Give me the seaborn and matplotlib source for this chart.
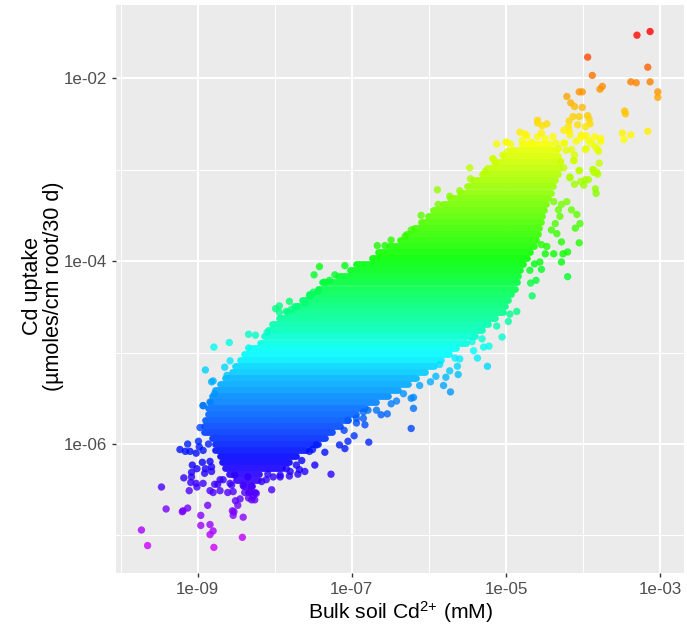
import numpy as np
import pandas as pd
import matplotlib
matplotlib.use("Agg")
import matplotlib.pyplot as plt
from matplotlib.colors import ListedColormap, Normalize, hsv_to_rgb
from matplotlib.ticker import FixedLocator, FixedFormatter, NullFormatter
import seaborn as sns

# Dense core of the cloud, read row by row: log10 uptake and the left / right log10 soil Cd edges
core_log_uptake = [-2.72,-2.79,-2.85,-2.92,-2.98,-3.05,-3.11,-3.18,-3.25,-3.31,-3.38,-3.44,-3.51,-3.57,-3.64,-3.70,-3.77,-3.84,-3.90,-3.97,
                   -4.03,-4.10,-4.16,-4.23,-4.30,-4.36,-4.43,-4.49,-4.56,-4.62,-4.69,-4.75,-4.82,-4.89,-4.95,-5.02,-5.08,-5.15,-5.21,-5.28,
                   -5.34,-5.41,-5.48,-5.54,-5.61,-5.67,-5.74,-5.80,-5.87,-5.93,-6.00,-6.07,-6.13,-6.20,-6.26,-6.33,-6.39,-6.46,-6.52]
core_log_left = [-4.79,-4.92,-5.03,-5.13,-5.25,-5.31,-5.43,-5.51,-5.60,-5.73,-5.82,-5.95,-6.01,-6.10,-6.19,-6.30,-6.38,-6.52,-6.66,-6.74,
                 -6.94,-7.03,-7.18,-7.39,-7.44,-7.56,-7.65,-7.75,-7.84,-7.94,-8.03,-8.09,-8.14,-8.19,-8.32,-8.40,-8.45,-8.51,-8.56,-8.65,
                 -8.71,-8.78,-8.82,-8.84,-8.86,-8.87,-8.90,-8.92,-8.92,-8.82,-8.78,-8.77,-8.71,-8.68,-8.64,-8.60,-8.50,-8.41,-8.35]
core_log_right = [-4.43,-4.35,-4.32,-4.30,-4.31,-4.32,-4.36,-4.39,-4.42,-4.45,-4.48,-4.51,-4.53,-4.55,-4.57,-4.58,-4.61,-4.64,-4.69,-4.73,
                  -4.78,-4.82,-4.84,-4.86,-4.88,-4.94,-4.97,-5.01,-5.04,-5.14,-5.23,-5.31,-5.40,-5.52,-5.65,-5.74,-5.84,-5.94,-6.05,-6.17,
                  -6.27,-6.40,-6.53,-6.69,-6.83,-6.95,-7.05,-7.16,-7.26,-7.35,-7.44,-7.60,-7.73,-7.82,-7.90,-8.20,-8.22,-8.29,-8.25]

# Individually visible points around the core
low_x = [-9.73,-9.65,-9.41,-9.20,-9.19,-9.13,-9.47,-8.87,-8.96,-8.96,-8.84,-8.80,-8.84,-8.79,-8.42,-8.41,-8.54,-8.55,-8.53,-8.48,
         -8.51,-8.45,-8.30,-8.26,-8.28,-8.24,-8.34,-8.04,-9.11,-9.01,-9.02,-9.09,-8.93,-9.18,-9.08,-9.08,-9.07,-9.01,-8.94,-8.84,
         -8.90,-8.82,-8.82,-8.91,-9.23,-9.16,-9.10,-9.13,-8.99,-8.98,-9.02,-8.93,-8.86,-8.97,-8.93,-8.78,-8.74,-8.84,-8.80,-8.71,
         -8.61,-8.54,-8.56,-8.41,-8.30,-8.39,-8.32,-8.67,-8.52,-8.35,-8.17,-8.02,-7.93,-7.81,-7.70,-7.61,-7.72,-7.85,-7.65,-7.55,
         -7.51,-7.46,-7.16,-7.35,-7.48,-7.68,-7.27,-8.09,-7.93,-7.80,-8.11,-8.58,-8.71]
low_y = [-6.94,-7.11,-6.71,-6.74,-6.73,-6.70,-6.47,-6.67,-6.78,-6.89,-6.88,-6.95,-6.99,-7.13,-7.02,-6.80,-6.78,-6.73,-6.74,-6.67,
         -6.62,-6.60,-6.61,-6.61,-6.57,-6.54,-6.59,-6.50,-6.51,-6.47,-6.43,-6.42,-6.43,-6.37,-6.36,-6.31,-6.23,-6.27,-6.20,-6.19,
         -6.27,-6.25,-6.30,-6.32,-6.06,-6.08,-6.08,-6.00,-5.97,-6.03,-6.10,-6.07,-6.00,-5.82,-5.58,-6.44,-6.44,-6.51,-6.53,-6.51,
         -6.53,-6.52,-6.45,-6.45,-6.46,-6.53,-6.52,-6.39,-6.34,-6.36,-6.41,-6.36,-6.36,-6.35,-6.33,-6.30,-6.23,-6.27,-6.18,-6.08,
         -6.06,-6.01,-6.01,-6.09,-6.23,-6.28,-6.33,-6.33,-6.34,-6.30,-6.39,-6.43,-6.39]

top_x = [-3.13,-3.30,-3.94,-3.16,-3.88,-3.38,-3.31,-3.13,-3.03,-3.03,-3.75,-3.78,-4.05,-4.01,-4.21,-4.16,-4.11,-4.01,-3.46,-3.45,
         -3.94,-3.92,-4.05,-4.13,-4.18,-4.59,-4.59,-4.47,-4.53,-3.91,-4.07,-3.97,-4.19,-4.25,-4.18,-4.17,-3.16,-3.49,-3.38,-3.47,
         -4.02,-3.96,-4.03,-3.85,-3.77,-3.77,-4.09,-3.93,-4.25,-3.89,-3.84,-3.81,-3.80,-3.96,-4.15,-4.22,-4.11,-4.12,-3.79,-4.05,
         -3.87,-3.86,-3.81,-3.97,-4.17,-4.25,-4.82,-4.75,-4.73,-5.12,-5.00,-4.94,-4.79,-4.67,-4.59,-4.54,-4.49,-4.39,-4.35,-4.32,
         -4.98,-5.04,-5.17,-5.14,-4.29]
top_y = [-1.49,-1.53,-1.77,-1.88,-1.97,-2.04,-2.05,-2.04,-2.15,-2.21,-2.09,-2.12,-2.15,-2.15,-2.20,-2.27,-2.31,-2.32,-2.36,-2.39,
         -2.41,-2.45,-2.42,-2.42,-2.47,-2.46,-2.49,-2.50,-2.52,-2.50,-2.51,-2.53,-2.53,-2.57,-2.58,-2.62,-2.58,-2.60,-2.62,-2.67,
         -2.62,-2.63,-2.65,-2.64,-2.66,-2.69,-2.69,-2.68,-2.71,-2.71,-2.75,-2.78,-2.80,-2.77,-2.78,-2.79,-2.84,-2.90,-2.93,-3.01,
         -3.00,-3.03,-3.05,-3.11,-3.08,-2.98,-2.59,-2.61,-2.63,-2.72,-2.70,-2.72,-2.68,-2.70,-2.64,-2.60,-2.66,-2.64,-2.71,-2.77,
         -2.80,-2.84,-2.88,-2.93,-2.91]

upper_left_x = [-7.42,-7.49,-7.09,-7.22,-7.36,-7.29,-7.55,-7.50,-7.43,-7.81,-7.94,-7.99,-7.94,-7.85,-7.79,-7.71,-7.61,-8.34,-8.25,-8.59,
                -8.79,-8.34,-8.10,-8.58,-8.65,-8.90,-8.62,-8.82,-8.80,-8.78,-8.93,-8.84,-5.89,-5.47,-6.10,-6.49,-6.67,-6.57,-6.23,-6.31,
                -5.27,-5.46,-5.60,-5.73,-5.88,-5.17,-4.99]
upper_left_y = [-4.06,-4.15,-4.05,-4.15,-4.23,-4.21,-4.38,-4.34,-4.32,-4.44,-4.49,-4.52,-4.56,-4.55,-4.53,-4.50,-4.46,-4.80,-4.81,-4.89,
                -4.94,-4.95,-4.78,-5.09,-5.16,-5.19,-5.25,-5.32,-5.31,-5.45,-5.58,-5.54,-3.22,-2.98,-3.50,-3.77,-3.83,-3.83,-3.66,-3.73,
                -3.02,-3.10,-3.23,-3.29,-3.38,-2.88,-2.70]

lower_right_x = [-4.05,-4.17,-4.11,-4.03,-3.93,-3.99,-3.87,-3.82,-3.84,-3.83,-4.21,-4.15,-4.08,-4.04,-4.10,-4.05,-4.20,-4.26,-4.28,-4.20,
                 -4.30,-4.32,-4.38,-4.28,-4.36,-4.34,-4.41,-4.28,-4.38,-4.47,-4.54,-4.49,-4.56,-4.54,-4.63,-4.69,-4.61,-4.68,-4.66,-4.12,
                 -4.24,-3.97,-4.86,-4.95,-4.97,-5.12,-5.05,-5.22,-5.29,-5.31,-5.44,-5.42,-5.37,-5.24,-5.60,-5.66,-5.63,-5.62,-5.73,-5.78,
                 -5.81,-5.72,-5.91,-5.98,-5.86,-6.20,-6.23,-6.20,-6.23,-6.42,-6.54,-6.62,-6.68,-6.79,-6.85,-6.94,-6.85,-6.83,-6.94,-7.05,
                 -7.10,-6.97,-7.05,-6.78,-7.09,-6.33,-6.49,-6.12]
lower_right_y = [-3.01,-3.09,-3.16,-3.13,-3.11,-3.17,-3.00,-3.03,-3.21,-3.26,-3.35,-3.44,-3.49,-3.59,-3.64,-3.80,-3.90,-3.92,-4.01,-4.17,
                 -3.51,-3.44,-3.35,-3.38,-3.59,-3.70,-3.66,-3.79,-3.92,-3.84,-3.82,-3.92,-4.01,-4.09,-4.03,-4.10,-4.21,-4.24,-4.38,-2.90,
                 -2.71,-2.78,-4.55,-4.58,-4.66,-4.71,-4.83,-4.93,-4.94,-4.85,-4.88,-4.98,-5.06,-5.15,-5.07,-5.06,-5.15,-5.24,-5.20,-5.27,
                 -5.36,-5.43,-5.26,-5.32,-5.13,-5.49,-5.50,-5.61,-5.83,-5.53,-5.67,-5.68,-5.63,-5.63,-5.65,-5.72,-5.72,-5.79,-5.77,-5.74,
                 -5.85,-5.91,-5.97,-5.98,-6.05,-5.45,-5.56,-5.36]

x_tick_labels = ["1e-09", "1e-07", "1e-05", "1e-03"]
y_tick_labels = ["1e-06", "1e-04", "1e-02"]

# Colour key: hue at a few uptake levels
key_log_uptake = [-7.13, -6.00, -5.30, -4.60, -3.99, -2.79, -1.77, -1.49]
key_hue = [0.80, 0.645, 0.55, 0.43, 0.335, 0.185, 0.05, 0.0]

FONT = "Liberation Sans"
plt.rcParams["font.family"] = [FONT, "DejaVu Sans"]
plt.rcParams["mathtext.fontset"] = "custom"
plt.rcParams["mathtext.rm"] = FONT
plt.rcParams["mathtext.default"] = "regular"

points = pd.DataFrame({
    "log_soil": low_x + top_x + upper_left_x + lower_right_x,
    "log_uptake": low_y + top_y + upper_left_y + lower_right_y,
})
points["soil"] = 10.0 ** points["log_soil"]
points["uptake"] = 10.0 ** points["log_uptake"]

levels = np.linspace(-7.13, -1.49, 256)
hues = np.interp(levels, key_log_uptake, key_hue)
rainbow = ListedColormap(hsv_to_rgb(np.column_stack([hues, np.ones(256), np.ones(256)])))
norm = Normalize(vmin=-7.13, vmax=-1.49)

fig = plt.figure(figsize=(6.87, 6.27), dpi=100)
W, H = 687, 627
ax = fig.add_axes([116 / W, 1 - 573 / H, (684 - 116) / W, (573 - 5) / H])
ax.set_facecolor("#EBEBEB")
ax.set_xscale("log")
ax.set_yscale("log")

core_y = np.array(core_log_uptake)
core_rgba = rainbow(norm(core_y))
core_rgba[:, :3] = core_rgba[:, :3] * 0.91 + 0.09
ax.hlines(10.0 ** core_y, 10.0 ** np.array(core_log_left), 10.0 ** np.array(core_log_right),
          colors=core_rgba, linewidth=4.9, capstyle="round", zorder=2)

sns.scatterplot(data=points, x="soil", y="uptake", hue="log_uptake", palette=rainbow,
                hue_norm=norm, s=28, linewidth=0, alpha=0.8, legend=False, ax=ax, zorder=3)

ax.set_xlim(10 ** -10.06, 10 ** -2.69)
ax.set_ylim(10 ** -7.41, 10 ** -1.20)

ax.xaxis.set_major_locator(FixedLocator([1e-9, 1e-7, 1e-5, 1e-3]))
ax.xaxis.set_major_formatter(FixedFormatter(x_tick_labels))
ax.xaxis.set_minor_locator(FixedLocator([1e-10, 1e-8, 1e-6, 1e-4]))
ax.xaxis.set_minor_formatter(NullFormatter())
ax.yaxis.set_major_locator(FixedLocator([1e-6, 1e-4, 1e-2]))
ax.yaxis.set_major_formatter(FixedFormatter(y_tick_labels))
ax.yaxis.set_minor_locator(FixedLocator([1e-7, 1e-5, 1e-3]))
ax.yaxis.set_minor_formatter(NullFormatter())

ax.set_axisbelow(True)
ax.grid(True, which="major", color="white", linewidth=1.5)
ax.grid(True, which="minor", color="white", linewidth=0.75)
for s in ax.spines.values():
    s.set_visible(False)
ax.tick_params(which="minor", length=0)
ax.tick_params(which="major", length=3.2, width=1, color="#333333", labelcolor="#4D4D4D",
               labelsize=12.2, pad=3)

ax.set_xlabel("Bulk soil Cd$^{2{+}}$ (mM)", fontsize=15.2, color="black", labelpad=2)
ax.set_ylabel("Cd uptake\n(µmoles/cm root/30 d)", fontsize=15.5, color="black", labelpad=0, linespacing=1.0, y=0.505)

fig.savefig("out.png", dpi=100)
